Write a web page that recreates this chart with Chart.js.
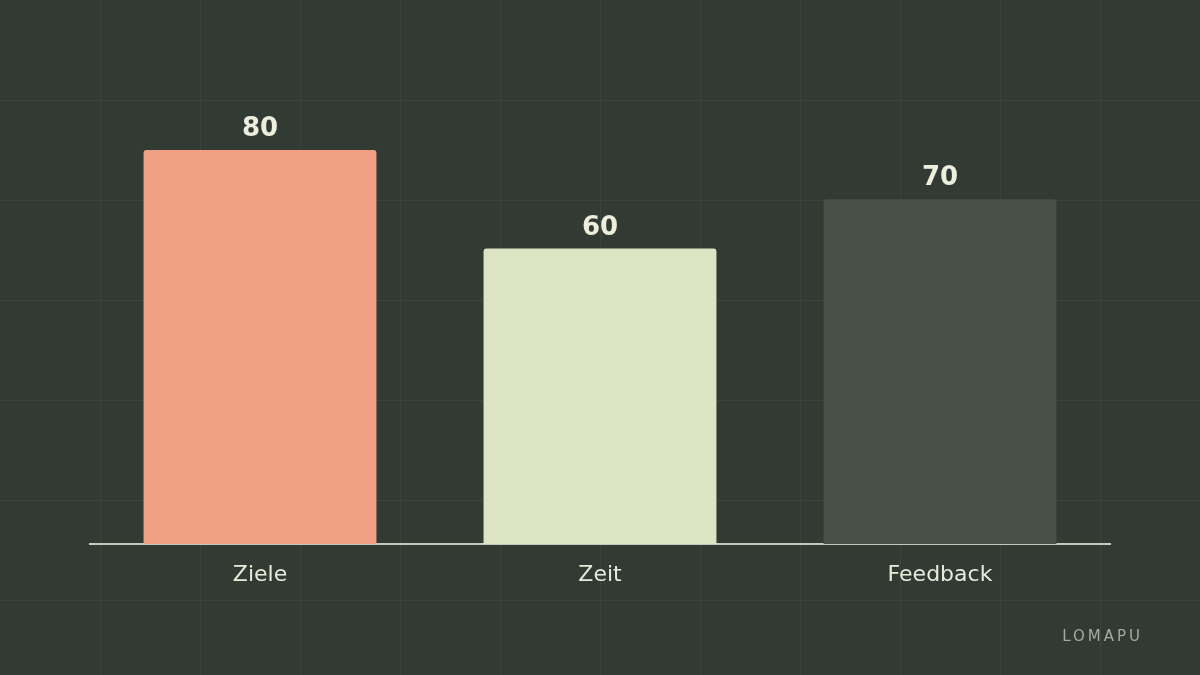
<!DOCTYPE html>
<html><head><meta charset="utf-8">
<script src="https://cdn.jsdelivr.net/npm/chart.js@4"></script>
<style>html,body{margin:0;padding:0;background:#313a33;}#w{width:1200px;height:675px;position:relative;}</style>
</head><body><div id="w"><canvas id="c"></canvas></div>
<script>
const categories = ["Ziele", "Zeit", "Feedback"];
const values = [80, 60, 70];
const barColors = ["#f09f85", "#dce4c3", "#475148"];

const bgPlugin = {
  id: 'bg',
  beforeDraw(chart) {
    const ctx = chart.ctx;
    ctx.save();
    ctx.fillStyle = '#313a33';
    ctx.fillRect(0, 0, chart.width, chart.height);
    ctx.strokeStyle = '#3a443c';
    ctx.lineWidth = 1;
    for (let x = 100; x < chart.width; x += 100) { ctx.beginPath(); ctx.moveTo(x + 0.5, 0); ctx.lineTo(x + 0.5, chart.height); ctx.stroke(); }
    for (let y = 100; y < chart.height; y += 100) { ctx.beginPath(); ctx.moveTo(0, y + 0.5); ctx.lineTo(chart.width, y + 0.5); ctx.stroke(); }
    ctx.restore();
  },
  afterDraw(chart) {
    const ctx = chart.ctx;
    ctx.save();
    ctx.fillStyle = '#eeeedd';
    ctx.font = 'bold 26px "DejaVu Sans"';
    ctx.textAlign = 'center';
    ctx.textBaseline = 'alphabetic';
    chart.getDatasetMeta(0).data.forEach((b, i) => {
      ctx.fillText(String(values[i]), b.x, b.y - 14);
    });
    ctx.fillStyle = '#a3ab9f';
    ctx.font = '15px "DejaVu Sans"';
    ctx.textAlign = 'right';
    ctx.letterSpacing = '3px';
    ctx.fillText('LOMAPU', 1143, 641);
    ctx.restore();
  }
};

new Chart(document.getElementById('c'), {
  type: 'bar',
  data: { labels: categories, datasets: [{ data: values, backgroundColor: barColors, borderRadius: 3, borderSkipped: 'bottom', barPercentage: 0.685, categoryPercentage: 1 }] },
  options: {
    responsive: true, maintainAspectRatio: false, animation: false,
    layout: { padding: { left: 90, right: 90, top: 51.5, bottom: 0 } },
    plugins: { legend: { display: false }, tooltip: { enabled: false } },
    scales: {
      y: { display: false, min: 0, max: 100 },
      x: {
        afterFit(s) { s.height = 131; },
        grid: { display: false, tickLength: 0 },
        border: { display: true, color: '#c5ccbd', width: 2 },
        ticks: { color: '#e8eada', font: { family: 'DejaVu Sans', size: 22 }, padding: 18 }
      }
    }
  },
  plugins: [bgPlugin]
});
</script></body></html>
